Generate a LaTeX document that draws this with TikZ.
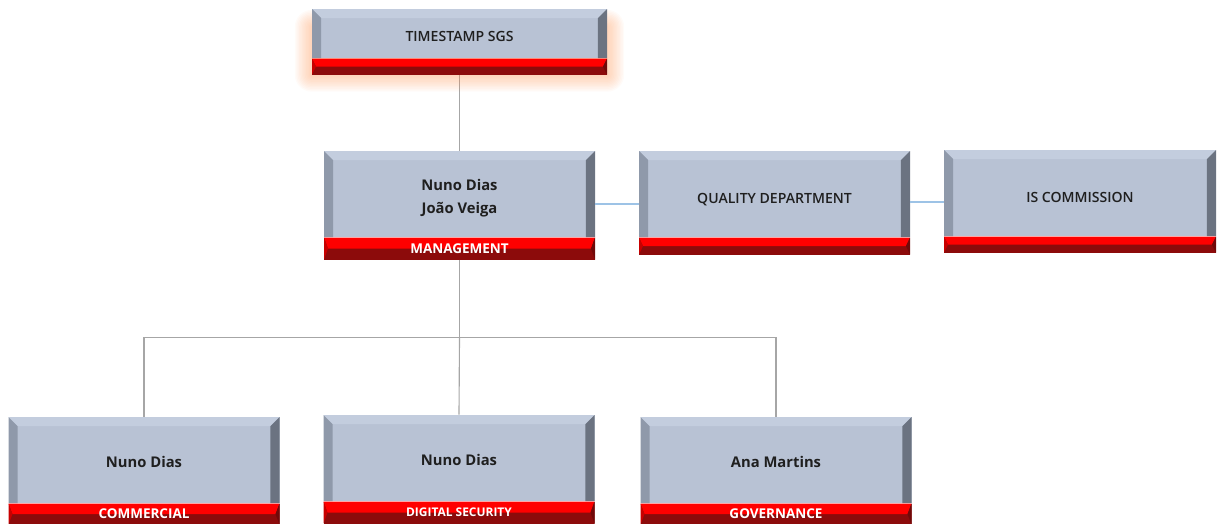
\documentclass[tikz,border=0pt]{standalone}
\usepackage{fontspec}
\setmainfont{Open Sans}
\newfontfamily\capfont{Open Sans Semibold}
\usetikzlibrary{positioning,calc,backgrounds}

\definecolor{boxface}{HTML}{B8C2D4}
\definecolor{boxtop}{HTML}{C3CDDE}
\definecolor{boxleft}{HTML}{8F99AA}
\definecolor{boxright}{HTML}{6B7381}
\definecolor{barred}{HTML}{FF0000}
\definecolor{bardark}{HTML}{8C0B0B}
\definecolor{barside}{HTML}{C80000}
\definecolor{treeline}{HTML}{A6A6A6}
\definecolor{sideline}{HTML}{9DC3E6}
\definecolor{glow}{HTML}{FF9A5C}

\tikzset{
  % grey bevelled face of a box
  bevelbox/.style={minimum width=6.775cm, minimum height=2.15cm, inner sep=0pt,
    align=center, text=black!88, font=\bfseries\fontsize{10.5}{16}\selectfont,
    text height=0.36cm, text depth=0pt,
    path picture={
      \path (path picture bounding box.north west) coordinate (nw)
            (path picture bounding box.north east) coordinate (ne)
            (path picture bounding box.south west) coordinate (sw)
            (path picture bounding box.south east) coordinate (se);
      \fill[boxface] (nw) rectangle (se);
      \fill[boxtop] (nw) -- (ne) -- ([shift={(-0.23,-0.23)}]ne) -- ([shift={(0.23,-0.23)}]nw) -- cycle;
      \fill[boxleft] (nw) -- ([shift={(0.23,-0.23)}]nw) -- ([xshift=0.23cm]sw) -- (sw) -- cycle;
      \fill[boxright] (ne) -- ([shift={(-0.23,-0.23)}]ne) -- ([xshift=-0.23cm]se) -- (se) -- cycle;
    }},
  capbox/.style={bevelbox, font=\capfont\fontsize{10}{12}\selectfont, text height=0.45cm},
  % red bar under a box
  barbox/.style={minimum width=6.775cm, minimum height=#1, inner sep=0pt,
    text=white, font=\bfseries\fontsize{9.6}{10}\selectfont,
    path picture={
      \path (path picture bounding box.north west) coordinate (bnw)
            (path picture bounding box.north east) coordinate (bne)
            (path picture bounding box.south west) coordinate (bsw)
            (path picture bounding box.south east) coordinate (bse);
      \fill[bardark] (bnw) rectangle (bse);
      \fill[barred] (bnw) -- (bne) -- ($(bne)!0.5!(bse)+(-0.1,0)$) -- ($(bnw)!0.5!(bsw)+(0.1,0)$) -- cycle;
      \fill[barside] (bnw) -- ($(bnw)!0.5!(bsw)+(0.1,0)$) -- (bsw) -- cycle;
      \fill[bardark!80!black] (bne) -- ($(bne)!0.5!(bse)+(-0.1,0)$) -- (bse) -- cycle;
    }},
  tree/.style={treeline, line width=0.8pt},
  side/.style={sideline, line width=0.8pt}
}

\begin{document}
\begin{tikzpicture}

\useasboundingbox (0,0) rectangle (30.525,-13.1);

% Top box
\node[capbox, minimum width=7.375cm, minimum height=1.225cm, text height=0.4cm] (top) at (11.4875,-0.8375) {TIMESTAMP SGS};
\node[barbox=0.4cm, minimum width=7.375cm, below=0pt of top] (top-bar) {};

% Management row
\node[bevelbox, text height=0.95cm] (mgmt) at (11.4875,-4.85) {Nuno Dias\\João Veiga};
\node[barbox=0.55cm, below=0pt of mgmt] (mgmt-bar) {MANAGEMENT};

\node[capbox] (qual) at (19.3625,-4.85) {QUALITY DEPARTMENT};
\node[barbox=0.425cm, below=0pt of qual] (qual-bar) {};

\node[capbox, minimum width=6.8cm] (iscom) at (27.0,-4.825) {IS COMMISSION};
\node[barbox=0.4cm, minimum width=6.8cm, below=0pt of iscom] (iscom-bar) {};

% Departments
\node[bevelbox] (comm) at (3.6,-11.5) {Nuno Dias};
\node[barbox=0.525cm, below=0pt of comm] (comm-bar) {COMMERCIAL};

\node[bevelbox] (dig) at (11.475,-11.45) {Nuno Dias};
\node[barbox=0.55cm, below=0pt of dig] (dig-bar) {\fontsize{8.5}{9}\selectfont DIGITAL SECURITY};

\node[bevelbox] (gov) at (19.4,-11.5) {Ana Martins};
\node[barbox=0.525cm, below=0pt of gov] (gov-bar) {GOVERNANCE};

% Connectors
\coordinate (bus) at ($(mgmt-bar.south)+(0,-1.95)$);

\begin{scope}[on background layer]
\draw[tree] (top-bar.south) -- (mgmt.north);
% glow round the top box, mostly at the bar
\foreach \r in {1,...,12}
  \fill[glow, opacity=0.045, rounded corners=\r pt]
    ([shift={(-\r pt,{\r pt-0.45cm})}]top.north west) rectangle ([shift={(\r pt,-\r pt)}]top-bar.south east);
\end{scope}

\draw[tree] (mgmt-bar.south) -- (bus);
\draw[tree] (comm.north) |- (bus) -| (gov.north);
\draw[tree] (bus) -- (dig.north);

\draw[side] ([yshift=-0.25cm]mgmt.east) -- ([yshift=-0.25cm]mgmt.east -| qual.west);
\draw[side] ([yshift=-0.2cm]qual.east) -- ([yshift=-0.2cm]qual.east -| iscom.west);

\end{tikzpicture}
\end{document}
